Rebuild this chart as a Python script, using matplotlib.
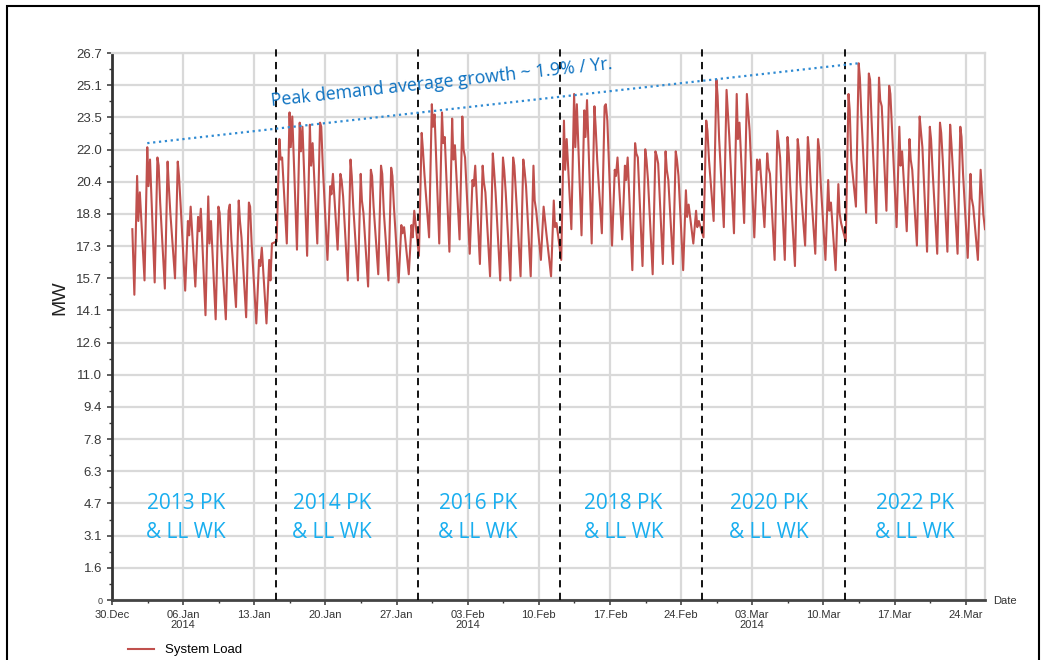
import numpy as np
import matplotlib.pyplot as plt
from matplotlib.lines import Line2D
from matplotlib.patches import Rectangle
from matplotlib.ticker import FixedLocator

plt.rcParams["font.family"] = ["Liberation Sans", "DejaVu Sans"]

# Daily load readings in MW for each two-week window (peak week + light-load week).
# Each tuple: (night trough, morning peak, midday dip, evening peak)
load_2013 = [
    (14.9, 20.7, 18.5, 19.9), (15.6, 22.1, 20.2, 21.5), (15.5, 21.6, 21.2, 19.4),
    (15.2, 21.4, 20.2, 18.9), (15.7, 21.4, 20.7, 19.4), (15.1, 18.5, 17.8, 19.2),
    (15.3, 18.7, 18.0, 19.1), (13.9, 19.7, 17.4, 18.5), (13.7, 19.2, 18.9, 17.4),
    (13.7, 19.0, 19.3, 17.6), (14.3, 19.5, 18.5, 17.7), (13.8, 19.4, 19.2, 17.4),
    (13.5, 16.6, 16.3, 17.2), (13.5, 16.6, 15.6, 17.4),
]
load_2014 = [
    (17.5, 22.5, 21.5, 21.6), (17.4, 23.8, 22.1, 23.6), (17.1, 23.3, 21.9, 23.1),
    (16.8, 23.2, 21.2, 22.3), (17.4, 23.3, 23.1, 21.2), (16.6, 20.2, 19.8, 20.8),
    (17.1, 20.8, 20.5, 19.7), (15.6, 21.5, 20.7, 19.2), (15.6, 20.8, 19.5, 18.9),
    (15.3, 21.0, 20.7, 19.2), (15.9, 21.2, 20.8, 19.0), (15.6, 21.1, 20.7, 19.2),
    (15.5, 18.3, 17.9, 18.2), (15.9, 18.3, 17.7, 19.0),
]
load_2016 = [
    (16.8, 22.8, 22.0, 20.8), (17.7, 24.2, 23.1, 23.7), (17.4, 23.8, 22.3, 22.6),
    (17.0, 23.5, 21.5, 22.2), (17.6, 23.6, 22.0, 21.6), (16.9, 20.5, 20.2, 21.2),
    (16.4, 21.2, 20.4, 19.9), (15.8, 21.8, 21.0, 19.9), (15.6, 21.6, 21.0, 19.9),
    (15.6, 21.6, 21.2, 19.9), (15.8, 21.5, 21.0, 20.2), (15.8, 21.2, 19.5, 19.0),
    (16.6, 19.2, 18.6, 17.9), (15.8, 19.5, 18.2, 18.4),
]
load_2018 = [
    (16.6, 23.4, 21.0, 22.5), (18.1, 24.7, 22.1, 24.2), (17.8, 23.9, 22.6, 24.4),
    (17.4, 24.1, 23.1, 21.5), (17.9, 24.1, 24.2, 23.4), (17.3, 21.0, 20.7, 21.6),
    (17.6, 21.2, 20.5, 21.6), (16.1, 22.3, 21.8, 21.6), (16.3, 22.0, 21.5, 20.5),
    (15.9, 21.9, 21.7, 21.3), (16.4, 21.9, 21.0, 20.5), (16.4, 21.9, 21.5, 20.7),
    (16.1, 20.0, 18.7, 19.3), (17.4, 19.0, 18.2, 18.5),
]
load_2020 = [
    (17.7, 23.4, 22.9, 21.5), (18.5, 25.4, 24.6, 22.5), (18.2, 24.9, 23.9, 22.6),
    (17.9, 24.7, 22.5, 23.3), (18.4, 24.7, 23.9, 22.9), (17.7, 21.5, 21.0, 21.5),
    (18.2, 21.8, 21.1, 20.8), (16.6, 22.9, 22.3, 21.6), (16.6, 22.6, 21.8, 20.2),
    (16.3, 22.5, 21.9, 20.3), (17.3, 22.6, 21.8, 20.3), (16.9, 22.5, 22.0, 20.3),
    (16.6, 20.5, 19.0, 19.4), (16.1, 20.3, 18.9, 18.4),
]
load_2022 = [
    (17.5, 24.7, 23.9, 21.5), (19.2, 26.2, 25.5, 23.6), (18.9, 25.7, 25.4, 23.4),
    (18.4, 25.5, 24.4, 24.1), (19.0, 25.1, 24.7, 23.1), (18.2, 23.1, 21.2, 21.9),
    (18.0, 22.5, 21.5, 21.0), (17.3, 23.6, 22.9, 22.1), (17.0, 23.1, 22.5, 21.0),
    (16.9, 23.3, 22.8, 21.5), (17.0, 23.2, 22.3, 21.0), (16.9, 23.1, 22.6, 20.8),
    (16.7, 20.8, 19.6, 19.2), (16.6, 21.0, 20.0, 18.8),
]
first_reading = 18.1
last_reading = 18.1

years = ["2013", "2014", "2016", "2018", "2020", "2022"]
segments = [load_2013, load_2014, load_2016, load_2018, load_2020, load_2022]

ytick_labels = ["0", "1.6", "3.1", "4.7", "6.3", "7.8", "9.4", "11.0", "12.6", "14.1",
                "15.7", "17.3", "18.8", "20.4", "22.0", "23.5", "25.1", "26.7"]
xtick_labels = ["30.Dec", "06.Jan\n2014", "13.Jan", "20.Jan", "27.Jan", "03.Feb\n2014",
                "10.Feb", "17.Feb", "24.Feb", "03.Mar\n2014", "10.Mar", "17.Mar", "24.Mar"]

LINE_RED = "#C0504D"
GRID = "#d9d9d9"

# lay the windows end to end on a day axis starting 30 Dec
start_day = 2.1
offsets = [0.10, 0.37, 0.49, 0.64]
t, load, seg_peaks = [start_day - 0.1], [first_reading], []
for k, seg in enumerate(segments):
    s0 = start_day + 14 * k
    best = (None, -1)
    for j, day in enumerate(seg):
        for off, v in zip(offsets, day):
            t.append(s0 + j + off)
            load.append(v)
            if v > best[1]:
                best = (s0 + j + off, v)
    seg_peaks.append(best)
t.append(85.9)
load.append(last_reading)
boundaries = [start_day + 14 * k for k in range(1, len(segments))]

fig = plt.figure(figsize=(10.44, 6.6), dpi=100)
ax = fig.add_axes([112 / 1044, 60 / 660, 873 / 1044, 547 / 660])

ax.plot(t, load, color=LINE_RED, lw=1.5, zorder=3)

ax.vlines(boundaries, 0, 27.0, colors="black", linestyles=(0, (4, 3)), lw=1.3,
          clip_on=False, zorder=4)

# trend of window peaks, first to last
(t0, v0), (t1, v1) = seg_peaks[0], seg_peaks[-1]
ax.plot([t0, t1], [v0 + 0.2, v1], color="#2E8AD2", ls=":", lw=1.6, zorder=5)
ax.text(15.7, 24.1, "Peak demand average growth ~ 1.9% / Yr.", rotation=6.2,
        rotation_mode="anchor", ha="left", va="baseline", color="#0A70C0",
        fontsize=12.8, family="Open Sans", zorder=6)

for x, yr in zip(np.linspace(7.3, 79.0, len(years)), years):
    ax.text(x, 4.0, f"{yr} PK\n& LL WK", ha="center", va="center", color="#19AEEF",
            fontsize=15, family="Open Sans", linespacing=1.45, zorder=6)

ax.set_xlim(0, 85.9)
ax.set_ylim(0, 26.7)

yt = np.linspace(0, 26.7, len(ytick_labels))
ax.set_yticks(yt)
ax.set_yticklabels(ytick_labels, fontsize=9.5, color="#383838")
ax.get_yticklabels()[0].set_fontsize(6.5)
ax.yaxis.set_minor_locator(FixedLocator((yt[:-1] + yt[1:]) / 2))

ax.set_xticks(np.arange(0, 85, 7))
ax.set_xticklabels(xtick_labels, fontsize=8, color="#333333", linespacing=1.0)
ax.xaxis.set_minor_locator(FixedLocator(np.arange(3.5, 86, 7)))

ax.tick_params(which="major", direction="out", length=3.6, width=1.1, color="#333333")
ax.tick_params(which="minor", direction="out", length=2.5, width=1.0, color="#333333")

ax.set_axisbelow(True)
ax.grid(True, which="major", color=GRID, lw=1.6)
for side in ("top", "right"):
    ax.spines[side].set_color(GRID)
    ax.spines[side].set_linewidth(1.6)
ax.spines["left"].set_color("#333333")
ax.spines["left"].set_linewidth(2)
ax.spines["bottom"].set_color("#444444")
ax.spines["bottom"].set_linewidth(2)

fig.text(60 / 1044, 1 - 298 / 660, "MW", rotation=90, ha="center", va="center",
         fontsize=14, color="#222222")
fig.text(993 / 1044, 1 - 601 / 660, "Date", ha="left", va="center", fontsize=8,
         color="#333333")

fig.legend(handles=[Line2D([], [], color=LINE_RED, lw=1.5)], labels=["System Load"],
           loc="center left", bbox_to_anchor=(128 / 1044, 1 - 650 / 660), frameon=False,
           fontsize=9.5, handlelength=2.0, handletextpad=0.8, borderpad=0, borderaxespad=0)

fig.add_artist(Rectangle((7 / 1044, -0.05), 1032 / 1044, 1.05 - 6 / 660,
                         transform=fig.transFigure, fill=False, ec="black", lw=1.5))

fig.savefig("out.png", dpi=100)
